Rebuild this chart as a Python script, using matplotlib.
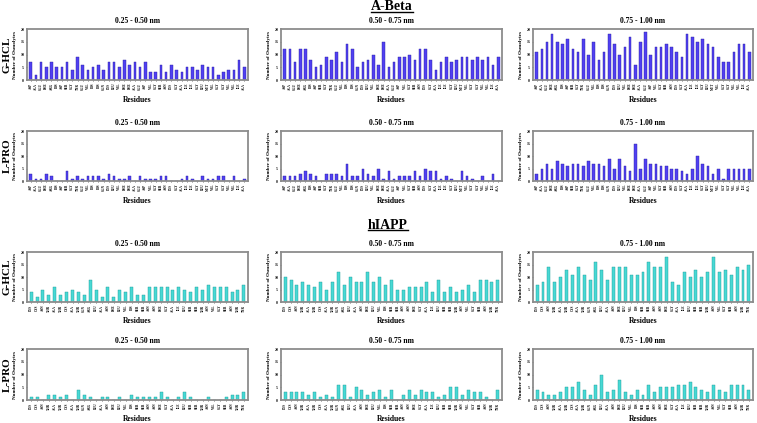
import matplotlib
matplotlib.use("Agg")
import matplotlib.pyplot as plt
from matplotlib.lines import Line2D
import numpy as np

# residue sequences
abeta_res = ["ASP", "ALA", "GLU", "PHE", "ARG", "HIS", "ASP", "SER", "GLY", "TYR",
             "GLU", "VAL", "HIS", "HIS", "GLN", "LYS", "LEU", "VAL", "PHE", "PHE",
             "ALA", "GLU", "ASP", "VAL", "GLY", "SER", "ASN", "LYS", "GLY", "ALA",
             "ILE", "ILE", "GLY", "LEU", "MET", "VAL", "GLY", "GLY", "VAL", "VAL",
             "ILE", "ALA"]
hiapp_res = ["LYS", "CYS", "ASN", "THR", "ALA", "THR", "CYS", "ALA", "THR", "GLN",
             "ARG", "LEU", "ALA", "ASN", "PHE", "LEU", "VAL", "HIS", "SER", "SER",
             "ASN", "ASN", "PHE", "GLY", "ALA", "ILE", "LEU", "SER", "SER", "THR",
             "ASN", "VAL", "GLY", "SER", "ASN", "THR", "TYR"]

shells = ["0.25 - 0.50 nm", "0.50 - 0.75 nm", "0.75 - 1.00 nm"]
osmolytes = ["G-HCL", "L-PRO"]

# A-Beta, number of osmolytes per residue
abeta_ghcl_1 = [7, 2, 7, 5, 7, 5, 5, 7, 4, 9, 6, 4, 5, 6, 4, 7, 7, 5, 8, 6,
                7, 5, 7, 3, 3, 6, 3, 6, 4, 3, 5, 5, 4, 6, 5, 5, 2, 3, 4, 4, 8, 5]
abeta_ghcl_2 = [12, 12, 7, 12, 12, 8, 5, 6, 9, 8, 11, 7, 14, 12, 5, 7, 8, 10, 6, 15,
                5, 7, 9, 9, 10, 8, 12, 12, 8, 4, 7, 9, 7, 8, 9, 9, 8, 9, 8, 9, 6, 9]
abeta_ghcl_3 = [11, 12, 15, 18, 15, 14, 16, 12, 11, 16, 10, 15, 8, 11, 18, 14, 10, 13, 17, 6,
                15, 19, 10, 13, 13, 14, 13, 11, 9, 18, 17, 15, 16, 14, 13, 9, 7, 7, 11, 14, 14, 11]
abeta_lpro_1 = [3, 1, 1, 3, 2, 0, 0, 4, 1, 2, 1, 2, 2, 2, 1, 3, 2, 1, 1, 2,
                0, 2, 1, 1, 1, 2, 2, 0, 0, 1, 2, 1, 0, 2, 1, 1, 2, 2, 0, 2, 0, 1]
abeta_lpro_2 = [2, 2, 2, 3, 4, 3, 2, 0, 3, 3, 3, 2, 7, 2, 2, 5, 3, 2, 5, 1,
                4, 1, 2, 2, 2, 4, 2, 5, 4, 4, 1, 2, 1, 0, 4, 2, 1, 0, 2, 0, 3, 0]
abeta_lpro_3 = [3, 5, 7, 5, 8, 7, 6, 7, 7, 6, 8, 7, 7, 6, 9, 5, 9, 6, 4, 15,
                5, 9, 7, 7, 6, 6, 5, 5, 4, 3, 5, 10, 7, 6, 3, 5, 1, 5, 5, 5, 5, 5]

# hIAPP, number of osmolytes per residue
hiapp_ghcl_1 = [4, 2, 5, 3, 6, 3, 4, 5, 4, 3, 9, 5, 2, 6, 2, 5, 4, 6, 3, 3,
                6, 6, 6, 6, 5, 6, 5, 4, 6, 5, 7, 6, 6, 6, 4, 5, 7]
hiapp_ghcl_2 = [10, 9, 7, 8, 7, 6, 8, 5, 8, 12, 7, 10, 8, 8, 12, 8, 10, 7, 9, 5,
                5, 6, 6, 6, 8, 4, 9, 4, 6, 4, 5, 7, 4, 9, 9, 8, 9]
hiapp_ghcl_3 = [7, 8, 14, 8, 10, 13, 11, 14, 11, 9, 16, 13, 9, 14, 14, 14, 11, 11, 12, 16,
                14, 14, 18, 8, 7, 12, 10, 13, 10, 12, 18, 12, 13, 11, 14, 13, 15]
hiapp_lpro_1 = [1, 1, 0, 2, 2, 1, 2, 0, 4, 2, 1, 0, 1, 1, 0, 1, 0, 2, 1, 1,
                1, 1, 3, 1, 0, 1, 3, 1, 0, 0, 1, 0, 0, 1, 2, 2, 3]
hiapp_lpro_2 = [3, 3, 3, 3, 2, 3, 1, 2, 1, 6, 6, 1, 5, 4, 2, 3, 4, 1, 4, 0,
                2, 4, 2, 4, 3, 3, 1, 2, 5, 5, 2, 4, 3, 3, 1, 0, 4]
hiapp_lpro_3 = [4, 3, 2, 2, 3, 5, 5, 7, 4, 2, 6, 10, 3, 4, 8, 3, 2, 4, 2, 6,
                3, 5, 5, 5, 6, 6, 7, 5, 4, 3, 6, 4, 3, 6, 6, 6, 4]

W, H = 757, 423
SERIF = "Liberation Serif"

fig = plt.figure(figsize=(W / 100, H / 100), dpi=100)


def px_axes(left, top, right, bottom):
    return fig.add_axes([left / W, 1 - bottom / H, (right - left) / W, (bottom - top) / H])


def bar_panel(ax, res, vals, color, edge, title):
    x = np.arange(len(res))
    ax.bar(x, vals, width=0.5, color=color, edgecolor=edge, linewidth=0.3)
    ax.set_xlim(-0.7, len(res) - 0.3)
    ax.set_ylim(0, 20)
    ax.set_yticks([0, 5, 10, 15, 20])
    ax.set_xticks(x)
    ax.set_xticklabels(res, rotation=90, fontsize=2.3, family=SERIF, fontweight="bold")
    for lab in ax.get_yticklabels():
        lab.set_fontsize(2.8)
        lab.set_family(SERIF)
        lab.set_fontweight("bold")
    ax.tick_params(length=1, width=0.4, pad=1)
    for sp in ax.spines.values():
        sp.set_color("#8c8c8c")
        sp.set_linewidth(1.3)
    ax.set_title(title, fontsize=5.5, family=SERIF, fontweight="bold", pad=4)
    ax.set_xlabel("Residues", fontsize=5.5, family=SERIF, fontweight="bold", labelpad=4)
    ax.set_ylabel("Number of Osmolytes", fontsize=3.7, family=SERIF, fontweight="bold", labelpad=2)


cols = [(27, 248), (281, 502), (533, 753)]
rows = [(29, 80), (131, 181), (252, 302), (349, 400)]

blocks = [
    (abeta_res, [[abeta_ghcl_1, abeta_ghcl_2, abeta_ghcl_3],
                 [abeta_lpro_1, abeta_lpro_2, abeta_lpro_3]], "#5040f2", "#2a20a0", 0),
    (hiapp_res, [[hiapp_ghcl_1, hiapp_ghcl_2, hiapp_ghcl_3],
                 [hiapp_lpro_1, hiapp_lpro_2, hiapp_lpro_3]], "#48d8d4", "#1a9a98", 2),
]

for res, data, color, edge, r0 in blocks:
    for i, osm in enumerate(osmolytes):
        top, bottom = rows[r0 + i]
        for j, shell in enumerate(shells):
            left, right = cols[j]
            ax = px_axes(left, top, right, bottom)
            bar_panel(ax, res, data[i][j], color, edge, shell)
        fig.text(7 / W, 1 - (top + bottom) / 2 / H, osm, rotation=90, ha="center", va="center",
                 fontsize=8, family=SERIF, fontweight="bold")

# block headings, underlined
heads = []
heads.append(fig.text(392 / W, 1 - 7 / H, "A-Beta", ha="center", va="center",
                      fontsize=10, family=SERIF, fontweight="bold"))
heads.append(fig.text(388 / W, 1 - 225 / H, "hIAPP", ha="center", va="center",
                      fontsize=10, family=SERIF, fontweight="bold"))
fig.canvas.draw()
rend = fig.canvas.get_renderer()
for t in heads:
    bb = t.get_window_extent(rend)
    y = (bb.y0 + 1) / H
    fig.add_artist(Line2D([bb.x0 / W, bb.x1 / W], [y, y], transform=fig.transFigure,
                          color="black", linewidth=1))

fig.savefig("out.png", dpi=100)
